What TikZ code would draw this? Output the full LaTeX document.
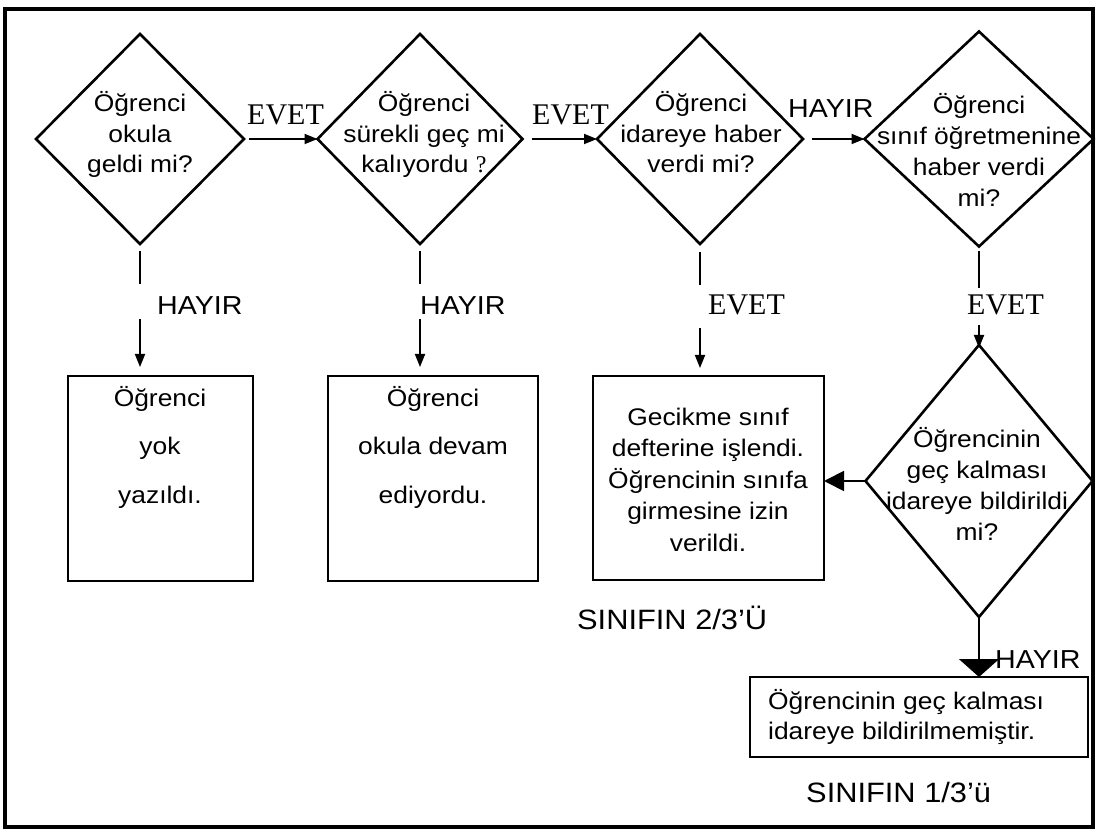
\documentclass[tikz,border=0pt]{standalone}
\usepackage{fontspec}
\setmainfont{Liberation Sans}[FakeStretch=1.1]
\newfontfamily\timesf{Liberation Serif}
\usetikzlibrary{shapes.geometric,arrows.meta}
\begin{document}
\begin{tikzpicture}[x=1pt,y=-1pt,
  dia/.style={draw,shape=diamond,line width=2.6pt,inner sep=0pt,outer sep=0pt},
  box/.style={draw,rectangle,line width=2pt,inner sep=0pt,outer sep=0pt},
  conn/.style={line width=1.8pt},
  arr/.style={conn,-{Triangle[length=13pt,width=10pt]}},
  bigleft/.style={conn,-{Triangle[length=20pt,width=20pt]}},
  bigdown/.style={conn,-{Triangle[length=18pt,width=40pt]}},
  txt/.style={align=center,inner sep=0pt,anchor=base,font=\fontsize{24}{30.5}\selectfont},
  lbl/.style={inner sep=0pt,anchor=base west,font=\fontsize{26}{26}\selectfont},
  tlbl/.style={inner sep=0pt,anchor=base west,font=\timesf\fontsize{30}{30}\selectfont},
  big/.style={inner sep=0pt,anchor=base west,font=\fontsize{28}{28}\selectfont},
]
\useasboundingbox (0,0) rectangle (1096,834);
\draw[line width=4pt] (5,9) rectangle (1093,827);

% diamonds
\node[dia,minimum width=208pt,minimum height=210pt] (d1) at (140,139) {};
\node[dia,minimum width=205pt,minimum height=210pt] (d2) at (420,139) {};
\node[dia,minimum width=206pt,minimum height=210pt] (d3) at (700,139) {};
\node[dia,minimum width=229pt,minimum height=215pt] (d4) at (979,139) {};
\node[dia,minimum width=227pt,minimum height=272pt] (d5) at (979,481) {};

% multi-line texts: anchor base = baseline of the last line
\node[txt] (t1) at (140,173) {Öğrenci\\okula\\geldi mi?};
\node[txt] (t2) at (424,173) {Öğrenci\\sürekli geç mi\\kalıyordu {\timesf ?}};
\node[txt] (t3) at (701,173) {Öğrenci\\idareye haber\\verdi mi?};
\node[txt,font=\fontsize{24}{31.3}\selectfont] (t4) at (979,207) {Öğrenci\\sınıf öğretmenine\\haber verdi\\mi?};
\node[txt,font=\fontsize{24}{30.7}\selectfont] (t5) at (977,540) {Öğrencinin\\geç kalması\\idareye bildirildi\\mi?};

% boxes
\node[box,minimum width=185pt,minimum height=205pt] (b1) at (160.5,478.5) {};
\node[box,minimum width=210pt,minimum height=205pt] (b2) at (433,478.5) {};
\node[box,minimum width=231pt,minimum height=204pt] (b3) at (708.5,478) {};
\node[box,minimum width=338pt,minimum height=80pt] (b4) at (919,717) {};

\node[txt,font=\fontsize{24}{48.5}\selectfont] (bt1) at (160,503) {Öğrenci\\yok\\yazıldı.};
\node[txt,font=\fontsize{24}{48.5}\selectfont] (bt2) at (433,503) {Öğrenci\\okula devam\\ediyordu.};
\node[txt,font=\fontsize{24}{31.5}\selectfont] (bt3) at (708,551) {Gecikme sınıf\\defterine işlendi.\\Öğrencinin sınıfa\\girmesine izin\\verildi.};
\node[txt,align=left,anchor=base west,font=\fontsize{24}{30}\selectfont] (bt4) at (768,739) {Öğrencinin geç kalması\\idareye bildirilmemiştir.};

% horizontal connectors
\draw[arr,shorten <=5pt] (d1.east) -- (d2.west);
\draw[arr,shorten <=9pt] (d2.east) -- (d3.west);
\draw[arr,shorten <=9pt] (d3.east) -- (d4.west);
\node[tlbl] (e1) at (247,125) {EVET};
\node[tlbl] (e2) at (532,125) {EVET};
\node[lbl] (h0) at (788,118) {HAYIR};

% vertical connectors
\draw[conn] ([yshift=-7pt]d1.south) -- ([yshift=-40pt]d1.south);
\draw[arr,shorten >=9pt] ([yshift=-75pt]d1.south) -- (d1.south |- b1.north);
\node[lbl] (h1) at (157,315) {HAYIR};

\draw[conn] ([yshift=-7pt]d2.south) -- ([yshift=-40pt]d2.south);
\draw[arr,shorten >=9pt] ([yshift=-75pt]d2.south) -- (d2.south |- b2.north);
\node[lbl] (h2) at (420,315) {HAYIR};

\draw[conn] ([yshift=-8pt]d3.south) -- ([yshift=-41pt]d3.south);
\draw[arr,shorten >=8pt] ([yshift=-84pt]d3.south) -- (d3.south |- b3.north);
\node[tlbl] (e3) at (708,315) {EVET};

\draw[conn] ([yshift=-5pt]d4.south) -- ([yshift=-42pt]d4.south);
\draw[arr,shorten >=-3pt] ([yshift=-79pt]d4.south) -- (d5.north);
\node[tlbl] (e4) at (967,315) {EVET};

% from last decision
\draw[bigleft] (d5.west) -- (d5.west -| b3.east);
\draw[bigdown] (d5.south) -- (d5.south |- b4.north);
\node[lbl] (h3) at (995,668) {HAYIR};

\node[big] (s1) at (577,629) {SINIFIN 2/3’Ü};
\node[big] (s2) at (806,802) {SINIFIN 1/3’ü};
\end{tikzpicture}
\end{document}
